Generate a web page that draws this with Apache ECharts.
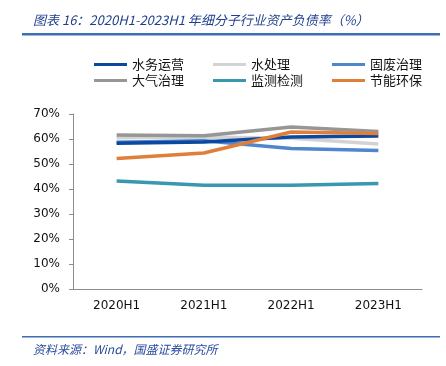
<!DOCTYPE html>
<html>
<head>
<meta charset="utf-8">
<script src="https://cdn.jsdelivr.net/npm/echarts@6/dist/echarts.min.js"></script>
<style>
  html, body { margin: 0; padding: 0; background: #fff; }
  #show_picture { width: 446px; height: 366px; }
</style>
</head>
<body>
<div id="show_picture"></div>
<script>
// 数据（%）
const categories = ['2020H1', '2021H1', '2022H1', '2023H1'];
const shuiwu = [58.3, 58.8, 60.8, 61.2];     // 水务运营
const shuichuli = [60.5, 60.8, 60.3, 58.0];  // 水处理
const gufei = [58.7, 59.3, 56.2, 55.4];      // 固废治理
const daqi = [61.6, 61.3, 64.8, 63.0];       // 大气治理
const jiance = [43.2, 41.5, 41.5, 42.2];     // 监测检测
const jieneng = [52.2, 54.4, 62.8, 62.2];    // 节能环保
const yTicks = [0, 10, 20, 30, 40, 50, 60, 70];

let myChart = echarts.init(document.getElementById('show_picture'));

const cjk = '"Noto Sans CJK SC", sans-serif';
const lineW = 3.5;

function mk(name, data, color) {
    return {
        name: name,
        type: 'line',
        data: data,
        symbol: 'none',
        lineStyle: { width: lineW, color: color },
        itemStyle: { color: color }
    };
}

function legendCol(left, names) {
    return {
        orient: 'vertical',
        left: left,
        top: 53,
        data: names,
        icon: 'rect',
        itemWidth: 33,
        itemHeight: 3,
        itemGap: 3,
        textStyle: { fontFamily: cjk, fontSize: 13, color: '#111' }
    };
}

let option = {
    animation: false,
    title: [
        {
            text: '图表 16：2020H1-2023H1 年细分子行业资产负债率（%）',
            left: 28,
            top: 9,
            textStyle: { fontFamily: cjk, fontSize: 13, fontStyle: 'italic', fontWeight: 'normal', color: '#1F3F8C' }
        },
        {
            text: '资料来源：Wind，国盛证券研究所',
            left: 28,
            top: 338,
            textStyle: { fontFamily: cjk, fontSize: 12, fontStyle: 'italic', fontWeight: 'normal', color: '#2A4C9C' }
        }
    ],
    graphic: [
        { type: 'rect', shape: { x: 22, y: 33, width: 418, height: 2.5 }, style: { fill: '#3F6DB5' } },
        { type: 'rect', shape: { x: 22, y: 336, width: 418, height: 1.5 }, style: { fill: '#3F6DB5' } }
    ],
    legend: [
        legendCol(89, ['水务运营', '大气治理']),
        legendCol(208, ['水处理', '监测检测']),
        legendCol(327, ['固废治理', '节能环保'])
    ],
    grid: { left: 73, right: 24, top: 114, bottom: 77 },
    xAxis: {
        type: 'category',
        data: categories,
        boundaryGap: true,
        axisLine: { lineStyle: { color: '#8C8C8C', width: 1 } },
        axisTick: { inside: true, length: 4, lineStyle: { color: '#8C8C8C' } },
        axisLabel: { fontFamily: 'DejaVu Sans', fontSize: 12, color: '#111', margin: 11 }
    },
    yAxis: {
        type: 'value',
        min: yTicks[0],
        max: yTicks[yTicks.length - 1],
        interval: 10,
        splitLine: { show: false },
        axisLine: { show: true, lineStyle: { color: '#8C8C8C', width: 1 } },
        axisTick: { show: true, length: 4, lineStyle: { color: '#8C8C8C' } },
        axisLabel: { fontFamily: 'DejaVu Sans', fontSize: 12, color: '#111', margin: 13, formatter: '{value}%' }
    },
    series: [
        mk('水处理', shuichuli, '#D3D3D3'),
        mk('大气治理', daqi, '#969696'),
        mk('监测检测', jiance, '#3A97B0'),
        mk('固废治理', gufei, '#4F86CC'),
        mk('水务运营', shuiwu, '#0B48A0'),
        mk('节能环保', jieneng, '#E07F3A')
    ]
};

option && myChart.setOption(option);
</script>
</body>
</html>
